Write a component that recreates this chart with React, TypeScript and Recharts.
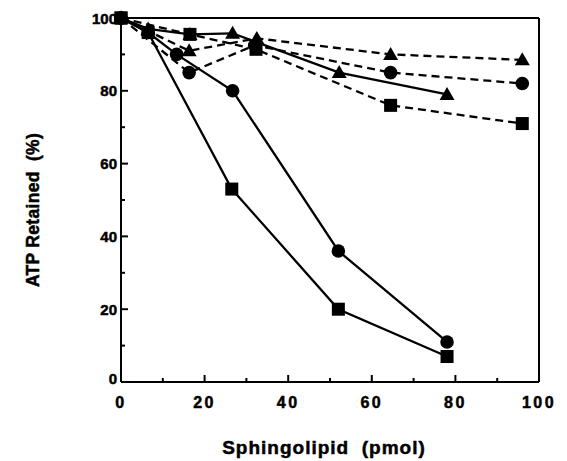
import { LineChart, Line, XAxis, YAxis, ReferenceLine } from "recharts"

// x = sphingolipid (pmol), y = ATP retained (%)
const solidSquareX = [0, 6.5, 26.5, 52, 78]
const solidSquareY = [100, 96, 53, 20, 7]

const solidCircleX = [0, 6.5, 13.3, 26.7, 52, 78]
const solidCircleY = [100, 96, 90, 80, 36, 11]

const solidTriangleX = [0, 6.5, 16.5, 26.7, 52.2, 78]
const solidTriangleY = [100, 97, 95.5, 95.8, 85, 79]

const dashSquareX = [0, 16.5, 32.3, 64.5, 96]
const dashSquareY = [100, 95.5, 91.4, 76, 71]

const dashCircleX = [0, 16.3, 32, 64.5, 96]
const dashCircleY = [100, 85, 92.5, 85, 82]

const dashTriangleX = [0, 16.3, 32.5, 64.5, 96]
const dashTriangleY = [100, 91, 94.4, 90, 88.5]

const tickValues = [0, 10, 20, 30, 40, 50, 60, 70, 80, 90, 100]

const toPoints = (xs: number[], ys: number[]) => xs.map((x, i) => ({ x, y: ys[i] }))

const font = "'Liberation Sans', Arial, Helvetica, sans-serif"
const textStyle = { fontFamily: font, fontWeight: "bold" as const, fill: "#000", stroke: "#000", strokeWidth: 0.5 }

const Square = (p: any) => (
  <rect key={p.index} x={p.cx - 6.5} y={p.cy - 6.5} width={13} height={13} fill="#000" />
)
const Circle = (p: any) => <circle key={p.index} cx={p.cx} cy={p.cy} r={6.8} fill="#000" />
const Triangle = (p: any) => (
  <path
    key={p.index}
    d={`M${p.cx},${p.cy - 7.5} L${p.cx + 7.5},${p.cy + 5.5} L${p.cx - 7.5},${p.cy + 5.5} Z`}
    fill="#000"
  />
)

const XTick = (p: any) => {
  const v = p.payload.value
  const major = v % 20 === 0
  return (
    <g>
      <line x1={p.x} y1={p.y} x2={p.x} y2={p.y - (major ? 7 : 4)} stroke="#000" strokeWidth={2} />
      {major && (
        <text x={p.x} y={p.y + 26} textAnchor="middle" fontSize={16} letterSpacing={2.5} {...textStyle}>
          {v}
        </text>
      )}
    </g>
  )
}

const YTick = (p: any) => {
  const v = p.payload.value
  const major = v % 20 === 0
  return (
    <g>
      <line x1={p.x} y1={p.y} x2={p.x + (major ? 7 : 4)} y2={p.y} stroke="#000" strokeWidth={2} />
      {major && (
        <text x={p.x - 4} y={v === 0 ? p.y + 2 : p.y + 5.5} textAnchor="end" fontSize={15} {...textStyle}>
          {v}
        </text>
      )}
    </g>
  )
}

export default function App() {
  const lineProps = { dataKey: "y", stroke: "#000", strokeWidth: 2.3, isAnimationActive: false }
  return (
    <LineChart width={559} height={453} margin={{ top: 10, right: 28, bottom: 0, left: 0 }}>
      <XAxis
        dataKey="x"
        type="number"
        domain={[0, 100]}
        ticks={tickValues}
        interval={0}
        tickSize={0}
        tickMargin={0}
        tickLine={false}
        tick={<XTick />}
        height={79}
        stroke="#000"
        strokeWidth={2}
        allowDuplicatedCategory={false}
        label={{
          content: () => (
            <text x={316} y={446} textAnchor="middle" fontSize={19} letterSpacing={1} {...textStyle}>
              {"Sphingolipid\u00a0\u00a0(pmol)"}
            </text>
          ),
        }}
      />
      <YAxis
        type="number"
        domain={[0, 100]}
        ticks={tickValues}
        interval={0}
        tickSize={0}
        tickMargin={0}
        tickLine={false}
        tick={<YTick />}
        width={113}
        stroke="#000"
        strokeWidth={2}
        label={{
          content: () => (
            <text x={31} y={202} transform="rotate(-90 31 202)" textAnchor="middle" fontSize={17.5} letterSpacing={0.3} {...textStyle}>
              {"ATP Retained\u00a0\u00a0(%)"}
            </text>
          ),
        }}
      />
      <ReferenceLine y={100} stroke="#000" strokeWidth={2} ifOverflow="visible" />
      <ReferenceLine x={100} stroke="#000" strokeWidth={2} ifOverflow="visible" />

      <Line {...lineProps} data={toPoints(dashSquareX, dashSquareY)} strokeDasharray="8 5" dot={Square} />
      <Line {...lineProps} data={toPoints(dashCircleX, dashCircleY)} strokeDasharray="8 5" dot={Circle} />
      <Line {...lineProps} data={toPoints(dashTriangleX, dashTriangleY)} strokeDasharray="8 5" dot={Triangle} />
      <Line {...lineProps} data={toPoints(solidTriangleX, solidTriangleY)} dot={Triangle} />
      <Line {...lineProps} data={toPoints(solidCircleX, solidCircleY)} dot={Circle} />
      <Line {...lineProps} data={toPoints(solidSquareX, solidSquareY)} dot={Square} />
    </LineChart>
  )
}
